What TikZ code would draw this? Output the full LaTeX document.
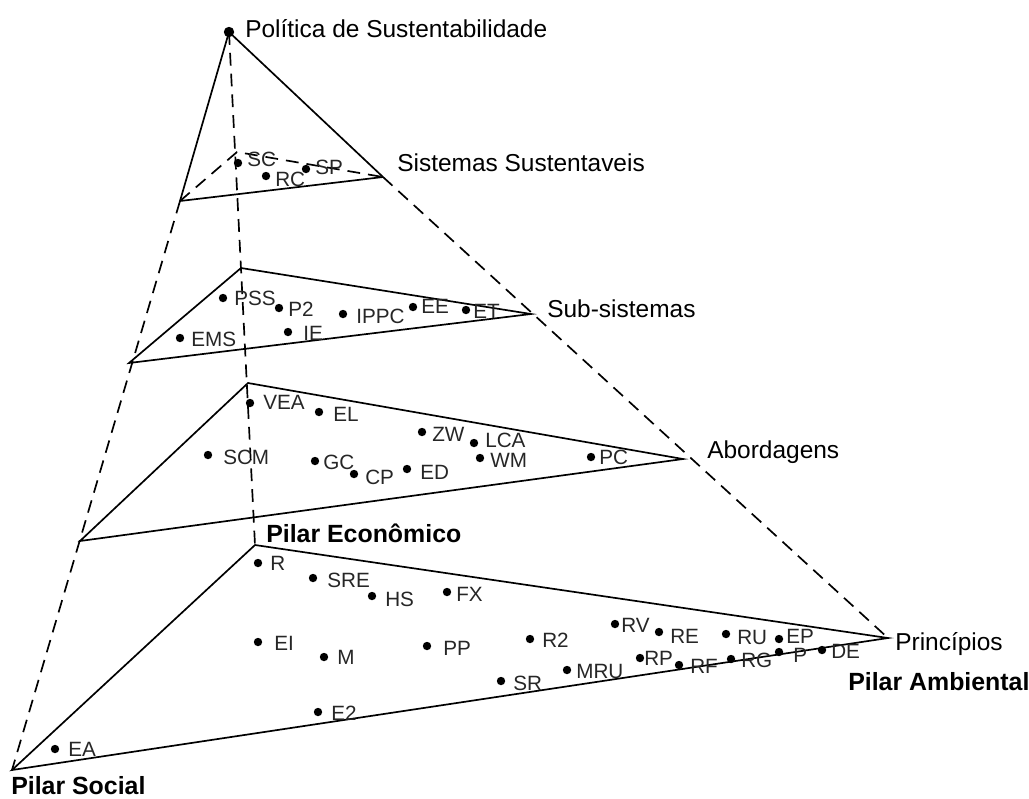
\documentclass[tikz,border=0pt]{standalone}
\usepackage{fontspec}
\setmainfont{Liberation Sans}
\tikzset{
  dot/.style={circle,fill=black,inner sep=0pt,minimum size=2.1mm},
  lbl/.style={anchor=west,inner sep=0pt,text=black!85,font=\fontsize{14.7}{16}\selectfont},
  layer/.style={anchor=base west,inner sep=0pt,font=\fontsize{17.4}{20}\selectfont},
  pilar/.style={anchor=base west,inner sep=0pt,font=\fontsize{17.7}{20}\selectfont\bfseries},
  solidline/.style={line width=1.2pt},
  dashline/.style={line width=1.2pt,dash pattern=on 3.2mm off 2mm}
}
\begin{document}
\begin{tikzpicture}[x=0.025cm,y=-0.025cm]
\useasboundingbox (0,0) rectangle (1029,798);
% corners of the pyramid and of its slices
\coordinate (apex) at (229,32);
\coordinate (ssb) at (237,152);  \coordinate (ssl) at (180,201);  \coordinate (ssr) at (383,177);
\coordinate (subb) at (241,268); \coordinate (subl) at (129,363); \coordinate (subr) at (531,314);
\coordinate (abb) at (248,383);  \coordinate (abl) at (80,541);   \coordinate (abr) at (683,459);
\coordinate (eco) at (255,545);  \coordinate (soc) at (12,770);   \coordinate (amb) at (888,638);
% pyramid
\draw[solidline] (ssl) -- (apex) -- (ssr);
\draw[dashline] (apex) -- (eco);
\draw[dashline] (ssl) -- (soc);
\draw[dashline] (ssr) -- (amb);
% slices
\draw[solidline] (ssl) -- (ssr);
\draw[dashline] (ssl) -- (ssb) -- (ssr);
\draw[solidline] (subb) -- (subr) -- (subl) -- cycle;
\draw[solidline] (abb) -- (abr) -- (abl) -- cycle;
\draw[solidline] (eco) -- (amb) -- (soc) -- cycle;
% layer names
\node[dot,minimum size=2.6mm] (top) at (apex) {};
\node[layer] (politica) at (245,37) {Política de Sustentabilidade};
\node[layer] (sistemas) at (397,171) {Sistemas Sustentaveis};
\node[layer] (subsistemas) at (547,317) {Sub-sistemas};
\node[layer] (abordagens) at (707,458) {Abordagens};
\node[layer] (principios) at (895,650) {Princípios};
\node[pilar] (ambiental) at (848,690) {Pilar Ambiental};
\node[pilar] (economico) at (266,542) {Pilar Econômico};
\node[pilar] (social) at (11,794) {Pilar Social};
% items
\foreach \nm/\px/\py/\lb/\lx/\ly in {
  sc/238/163/SC/247/159, rc/266/176/RC/275/179, sp/306/169/SP/315/167,
  pss/223/298/PSS/234/298, p2/279/308/P2/288/309, ippc/343/314/IPPC/356/316,
  ee/413/307/EE/421/306, et/466/310/ET/473/311, ems/180/338/EMS/191/339,
  ie/288/332/IE/303/333,
  vea/250/403/VEA/263/402, el/319/412/EL/333/414, zw/422/432/ZW/432/434,
  lca/474/443/LCA/485/440, scm/208/455/SCM/223/457, gc/315/461/GC/323/462,
  cp/354/474/CP/365/477, ed/407/469/ED/420/472, wm/480/458/WM/490/460,
  pc/591/457/PC/599/457,
  r/258/563/R/270/563, sre/313/578/SRE/327/580, hs/372/596/HS/385/599,
  fx/447/592/FX/456/594, ei/258/642/EI/274/643, m/324/657/M/337/657,
  pp/427/646/PP/443/648, r2/530/639/R2/542/640, sr/501/681/SR/513/683,
  mru/567/670/MRU/576/671, e2/318/712/E2/331/713, ea/55/749/EA/68/749,
  rv/615/624/RV/621/625, re/659/632/RE/670/636, ru/726/634/RU/737/637,
  ep/779/639/EP/786/636, de/822/650/DE/831/651, rp/640/658/RP/644/658,
  rf/679/665/RF/690/666, rg/731/659/RG/741/660, p/779/652/P/793/655}
{
  \node[dot] (\nm) at (\px,\py) {};
  \node[lbl] (\nm-l) at (\lx,\ly) {\lb};
}
\end{tikzpicture}
\end{document}
